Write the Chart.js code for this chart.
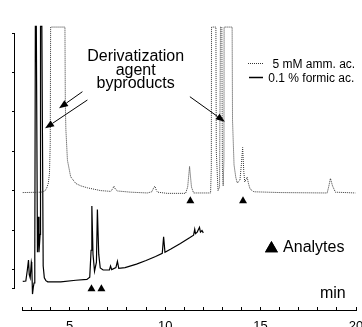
<!DOCTYPE html>
<html>
<head>
<meta charset="utf-8">
<script src="https://cdn.jsdelivr.net/npm/chart.js@4/dist/chart.umd.min.js"></script>
<style>
  html, body { margin: 0; padding: 0; background: #fff; }
  canvas { display: block; }
</style>
</head>
<body>
<canvas id="chart" width="362" height="327"></canvas>
<script>
// Series names (legend)
const seriesNames = ['5 mM amm. ac.', '0.1 % formic ac.'];

// 5 mM ammonium acetate trace (dotted), time in min / signal in a.u.
const ammTime = [2.54, 3.5, 3.70, 3.80, 3.88, 3.94, 3.98, 4.0, 4.75, 4.77, 4.80, 4.88, 5.05, 5.32, 5.58, 5.93,
  6.62, 7.15, 7.24, 7.32, 7.4, 7.51, 8.19, 9.07, 9.3, 9.42, 9.47, 9.55, 9.61, 10.11, 11.07, 11.18, 11.28, 11.38,
  11.49, 12.38, 12.42, 12.43, 12.66, 12.68, 12.77, 12.85, 12.90, 12.97, 13.0, 13.04, 13.08, 13.09, 13.51, 13.53,
  13.61, 13.70, 13.78, 13.92, 14.0, 14.06, 14.12, 14.17, 14.25, 14.30, 14.36, 14.45, 14.65, 16.04, 18.49, 18.58,
  18.66, 18.77, 18.92, 19.97];
const ammSignal = [1.96, 1.97, 2.0, 2.08, 2.2, 2.45, 3.2, 6.15, 6.15, 4.2, 3.55, 2.78, 2.36, 2.19, 2.13, 2.08,
  2.01, 1.99, 2.05, 2.12, 2.04, 2.0, 1.97, 1.95, 1.98, 2.1, 2.12, 2.0, 1.97, 1.94, 1.94, 2.1, 2.62, 2.1,
  1.95, 1.95, 2.6, 6.15, 6.15, 3.0, 2.01, 2.1, 6.15, 6.15, 2.6, 2.13, 2.8, 6.15, 6.15, 3.8,
  2.66, 2.35, 2.2, 2.28, 2.7, 3.1, 2.5, 2.23, 2.3, 2.35, 2.2, 2.05, 1.98, 1.96, 1.95, 2.13,
  2.32, 2.13, 1.97, 1.95];

// 0.1 % formic acid trace (solid)
const formicTime = [2.54, 2.70, 2.78, 2.84, 2.88, 2.93, 2.99, 3.01, 3.05, 3.09, 3.13, 3.17, 3.20, 3.25, 3.31,
  3.35, 3.39, 3.45, 3.47, 3.54, 3.61, 3.67, 3.75, 3.85, 4.53, 5.32, 5.9, 6.05, 6.12, 6.16, 6.22, 6.30, 6.40,
  6.45, 6.52, 6.60, 6.75, 7.08, 7.14, 7.20, 7.42, 7.50, 7.57, 7.9, 8.5, 9.0, 9.5, 9.85, 9.92, 9.99, 10.3,
  10.8, 11.3, 11.49, 11.55, 11.59, 11.68, 11.80, 11.85, 11.93, 12.0];
const formicSignal = [-0.29, -0.28, 0.0, 0.25, -0.12, -0.2, 0.2, 0.15, -0.61, -0.45, -0.33, 0.3, 6.17, 6.17, 0.45,
  1.35, 0.45, 0.9, 6.17, 6.17, 0.1, -0.2, -0.27, -0.3, -0.3, -0.26, -0.24, -0.18, 0.5, 1.62, 0.4, -0.03, 0.2,
  1.53, 0.4, 0.05, 0.0, 0.0, 0.1, 0.01, 0.06, 0.22, 0.04, 0.06, 0.15, 0.24, 0.34, 0.42, 0.84, 0.45, 0.53,
  0.67, 0.82, 0.88, 1.03, 0.92, 0.96, 1.08, 0.96, 1.0, 0.94];

// Analyte markers (triangles)
const analyteTime = [6.14, 6.66, 11.32, 14.08];
const analyteLevel = [-0.48, -0.48, 1.75, 1.75];

// Axis range and labelled ticks
const timeRange = [2.5, 20];
const signalRange = [-0.456, 6];
const tickLabels = [5, 10, 15, 20];

// Annotations, anchored in data units
const notes = [
  { text: 'Derivatization', x: 8.455, y: 5.28, align: 'center' },
  { text: 'agent', x: 8.455, y: 4.94, align: 'center' },
  { text: 'byproducts', x: 8.455, y: 4.595, align: 'center' },
  { text: 'Analytes', x: 16.18, y: 0.448, align: 'left' },
  { text: 'min', x: 19.46, y: -0.71, align: 'right' }
];
const arrows = [
  [5.666, 4.514, 4.441, 4.094],
  [5.927, 4.304, 3.709, 3.587],
  [11.296, 4.387, 13.128, 3.754]
];
const analyteKey = { x: 15.57, y: 0.544 };

const FONT = 'Arial, "Liberation Sans", sans-serif';

const toPoints = (xs, ys) => xs.map((v, i) => ({ x: v, y: ys[i] }));

const annotate = {
  id: 'annotate',
  afterDraw(chart) {
    const { ctx } = chart;
    const sx = chart.scales.x, sy = chart.scales.y;
    ctx.save();
    ctx.fillStyle = '#000';
    ctx.strokeStyle = '#000';

    // arrows
    ctx.lineWidth = 1;
    arrows.forEach(a => {
      const x0 = sx.getPixelForValue(a[0]), y0 = sy.getPixelForValue(a[1]);
      const x1 = sx.getPixelForValue(a[2]), y1 = sy.getPixelForValue(a[3]);
      const ang = Math.atan2(y1 - y0, x1 - x0);
      const len = 9, half = 3.5;
      const bx = x1 - Math.cos(ang) * len, by = y1 - Math.sin(ang) * len;
      ctx.beginPath();
      ctx.moveTo(x0, y0);
      ctx.lineTo(bx, by);
      ctx.stroke();
      ctx.beginPath();
      ctx.moveTo(x1, y1);
      ctx.lineTo(bx - Math.sin(ang) * half, by + Math.cos(ang) * half);
      ctx.lineTo(bx + Math.sin(ang) * half, by - Math.cos(ang) * half);
      ctx.closePath();
      ctx.fill();
    });

    // text notes
    ctx.font = '16px ' + FONT;
    ctx.textBaseline = 'alphabetic';
    notes.forEach(n => {
      ctx.textAlign = n.align;
      ctx.fillText(n.text, sx.getPixelForValue(n.x), sy.getPixelForValue(n.y));
    });

    // analyte key triangle
    Chart.helpers.drawPoint(ctx, { pointStyle: 'triangle', radius: 7.5, borderWidth: 0 },
      sx.getPixelForValue(analyteKey.x), sy.getPixelForValue(analyteKey.y));
    ctx.fill();

    // legend
    const ds = chart.data.datasets;
    ctx.font = '12px ' + FONT;
    ctx.textAlign = 'left';
    ctx.strokeStyle = ds[0].borderColor;
    ctx.lineWidth = 1;
    ctx.setLineDash(ds[0].borderDash);
    ctx.beginPath(); ctx.moveTo(248, 63.5); ctx.lineTo(264, 63.5); ctx.stroke();
    ctx.setLineDash([]);
    ctx.strokeStyle = ds[1].borderColor;
    ctx.lineWidth = 1.5;
    ctx.beginPath(); ctx.moveTo(249, 77.5); ctx.lineTo(263, 77.5); ctx.stroke();
    ctx.fillText(ds[0].label, 272.5, 67.5);
    ctx.fillText(ds[1].label, 268.3, 82);
    ctx.restore();
  }
};

const hidden = {
  ticks: { display: false },
  grid: { display: false },
  border: { display: false }
};

new Chart(document.getElementById('chart'), {
  type: 'line',
  data: {
    datasets: [{
      label: seriesNames[0],
      data: toPoints(ammTime, ammSignal),
      borderColor: '#333',
      borderWidth: 1,
      borderDash: [1, 1],
      pointRadius: 0,
      tension: 0,
      clip: false
    }, {
      label: seriesNames[1],
      data: toPoints(formicTime, formicSignal),
      borderColor: '#000',
      borderWidth: 1.2,
      pointRadius: 0,
      tension: 0,
      clip: false
    }, {
      type: 'scatter',
      label: 'Analytes',
      data: toPoints(analyteTime, analyteLevel),
      pointStyle: 'triangle',
      pointRadius: 4.6,
      backgroundColor: '#000',
      borderWidth: 0,
      clip: false
    }]
  },
  options: {
    responsive: false,
    animation: false,
    devicePixelRatio: 1,
    layout: { padding: { top: 33, right: 6, left: 0, bottom: 0 } },
    plugins: { legend: { display: false }, tooltip: { enabled: false } },
    scales: {
      x: {
        type: 'linear', position: 'bottom', stack: 'bottom', stackWeight: 334, weight: 1,
        min: timeRange[0], max: timeRange[1],
        afterBuildTicks: s => {
          const t = [timeRange[0]];
          for (let v = Math.ceil(timeRange[0]); v <= timeRange[1]; v++) t.push(v);
          s.ticks = t.map(v => ({ value: v }));
        },
        ticks: {
          autoSkip: false, maxRotation: 0, padding: 12, color: '#000',
          font: { family: FONT, size: 13 },
          callback: v => tickLabels.includes(v) ? String(v) : ''
        },
        grid: { drawOnChartArea: false, tickLength: -3, color: '#000' },
        border: { color: '#000', width: 1 },
        afterFit: s => { s.height = 17; s.paddingLeft = 0; s.paddingRight = 0; }
      },
      x2: Object.assign({
        type: 'linear', position: 'bottom', stack: 'bottom', stackWeight: 8, weight: 0,
        afterFit: s => { s.height = 17; }
      }, hidden),
      y: {
        type: 'linear', position: 'left', stack: 'left', stackWeight: 255, weight: 1,
        min: signalRange[0], max: signalRange[1],
        afterBuildTicks: s => {
          const t = [signalRange[0]];
          for (let v = 0; v <= signalRange[1]; v++) t.push(v);
          s.ticks = t.map(v => ({ value: v }));
        },
        ticks: { display: false },
        grid: { drawOnChartArea: false, tickLength: 2, color: '#000' },
        border: { color: '#000', width: 1 },
        afterFit: s => { s.width = 14; }
      },
      y2: Object.assign({
        type: 'linear', position: 'left', stack: 'left', stackWeight: 22, weight: 0,
        afterFit: s => { s.width = 14; }
      }, hidden)
    }
  },
  plugins: [annotate]
});
</script>
</body>
</html>
